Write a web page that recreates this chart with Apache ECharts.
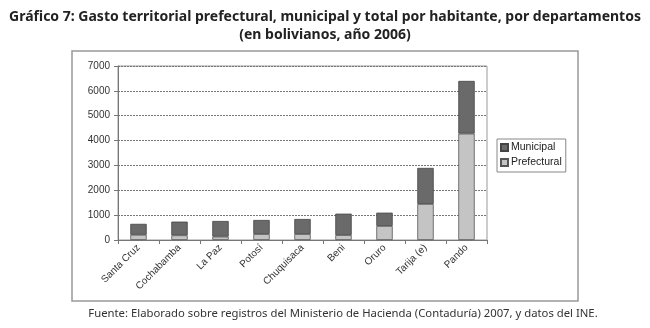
<!DOCTYPE html>
<html>
<head>
<meta charset="utf-8">
<script src="https://cdn.jsdelivr.net/npm/echarts@6/dist/echarts.min.js"></script>
<style>
  html, body { margin: 0; padding: 0; background: #fff; }
  #chart { width: 650px; height: 328px; }
</style>
</head>
<body>
<div id="chart"></div>
<script>
// Gasto territorial por habitante, por departamentos (Bs, 2006)
const departamentos = ['Santa Cruz', 'Cochabamba', 'La Paz', 'Potosí', 'Chuquisaca', 'Beni', 'Oruro', 'Tarija (e)', 'Pando'];
const prefectural = [210, 190, 135, 240, 240, 200, 565, 1450, 4280];
const municipal = [440, 550, 630, 565, 605, 860, 535, 1450, 2120];
const yTicks = [0, 1000, 2000, 3000, 4000, 5000, 6000, 7000];

const chart = echarts.init(document.getElementById('chart'));

const labelFont = 'Liberation Sans';
const titleFont = 'Noto Sans';

const option = {
    animation: false,
    backgroundColor: '#fff',
    title: [
        {
            text: 'Gráfico 7: Gasto territorial prefectural, municipal y total por habitante, por departamentos\n(en bolivianos, año 2006)',
            left: 'center',
            top: 3,
            textStyle: {
                fontSize: 14,
                fontWeight: 'bold',
                color: '#222',
                fontFamily: titleFont,
                lineHeight: 18,
                align: 'center',
            },
        },
        {
            text: 'Fuente: Elaborado sobre registros del Ministerio de Hacienda (Contaduría) 2007, y datos del INE.',
            left: 338,
            top: 303,
            textAlign: 'center',
            textStyle: {
                fontSize: 11.3,
                fontWeight: 'normal',
                color: '#333',
                fontFamily: titleFont,
            },
        },
    ],
    graphic: [
        {
            type: 'rect',
            shape: { x: 72, y: 51, width: 506, height: 250 },
            style: { fill: 'none', stroke: '#999', lineWidth: 1.5 },
            z: -1,
        },
    ],
    legend: {
        orient: 'vertical',
        left: 497,
        top: 139,
        data: ['Municipal', 'Prefectural'],
        icon: 'rect',
        itemWidth: 7,
        itemHeight: 7,
        itemGap: 4,
        padding: [3, 4, 4, 3],
        borderColor: '#888',
        borderWidth: 1,
        textStyle: {
            fontSize: 10.5,
            color: '#222',
            fontFamily: labelFont,
            padding: [0, 0, 0, -2],
        },
    },
    grid: {
        left: 118,
        right: 163,
        top: 66,
        bottom: 88,
        show: true,
        borderColor: '#999',
        borderWidth: 1,
        backgroundColor: '#fff',
    },
    xAxis: {
        type: 'category',
        data: departamentos,
        axisLine: { lineStyle: { color: '#777' } },
        axisTick: { show: true, length: 4, lineStyle: { color: '#777' } },
        axisLabel: {
            rotate: 45,
            interval: 0,
            fontSize: 10,
            color: '#333',
            fontFamily: labelFont,
            margin: 6,
        },
    },
    yAxis: {
        type: 'value',
        min: 0,
        max: 7000,
        interval: 1000,
        axisLine: { show: true, lineStyle: { color: '#777' } },
        axisTick: { show: true, length: 4, lineStyle: { color: '#777' } },
        axisLabel: {
            fontSize: 10,
            color: '#333',
            fontFamily: labelFont,
            margin: 8,
            formatter: (v) => (yTicks.includes(v) ? String(v) : ''),
        },
        splitLine: { show: true, lineStyle: { color: '#777', type: [2, 1], width: 1 } },
    },
    series: [
        {
            name: 'Prefectural',
            type: 'bar',
            stack: 'total',
            data: prefectural,
            barWidth: '40%',
            itemStyle: { color: '#c4c4c4', borderColor: '#555', borderWidth: 0.8 },
        },
        {
            name: 'Municipal',
            type: 'bar',
            stack: 'total',
            data: municipal,
            barWidth: '40%',
            itemStyle: { color: '#6a6a6a', borderColor: '#444', borderWidth: 0.8 },
        },
    ],
};

chart.setOption(option);
</script>
</body>
</html>
